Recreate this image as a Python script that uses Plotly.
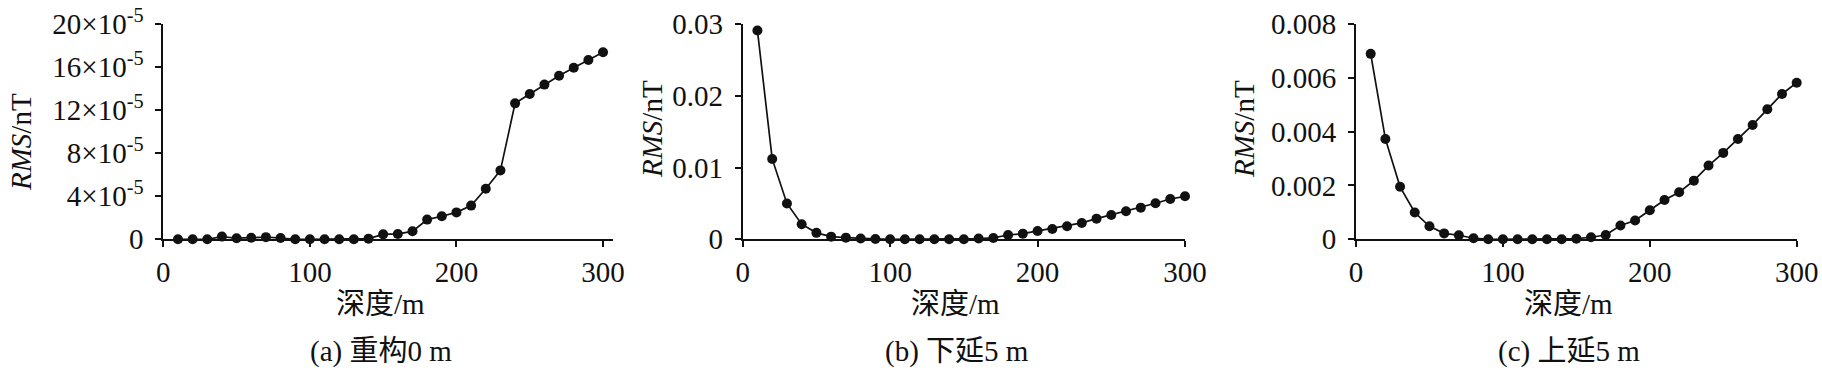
import numpy as np
import plotly.graph_objects as go

depth = list(range(10, 301, 10))

# (a) 重构0 m, values in units of 1e-5 nT
rms_a_e5 = [0, 0, 0, 0.25, 0.1, 0.15, 0.2, 0.12, 0.0, 0.0,
            0.0, 0.0, 0.0, 0.06, 0.46, 0.5, 0.74, 1.83, 2.14, 2.5,
            3.13, 4.7, 6.4, 12.63, 13.5, 14.37, 15.2, 15.94, 16.66, 17.37]
# (b) 下延5 m
rms_b = [0.0291, 0.0112, 0.0050, 0.0021, 0.0009, 0.00037, 0.00023, 0.0001, 0.00005, 0.0,
         0.0, 0.0, 0.0, 0.0, 0.0, 0.0001, 0.00019, 0.0006, 0.00079, 0.00116,
         0.00144, 0.00181, 0.00228, 0.00288, 0.00339, 0.0039, 0.00441, 0.00502, 0.00562, 0.00599]
# (c) 上延5 m
rms_c = [0.00689, 0.00373, 0.00195, 0.000995, 0.000485, 0.00022, 0.00015, 0.00004, 0.0, 0.0,
         0.0, 0.0, 0.0, 0.0, 0.000025, 0.000075, 0.00016, 0.00051, 0.0007, 0.00108,
         0.00146, 0.00175, 0.00218, 0.00274, 0.00321, 0.00373, 0.00425, 0.00483, 0.0054, 0.00582]

xticks = [0, 100, 200, 300]
yticks_a = [0, 4e-5, 8e-5, 12e-5, 16e-5, 20e-5]
yticktext_a = ["0", "4×10<sup>-5</sup>", "8×10<sup>-5</sup>", "12×10<sup>-5</sup>",
               "16×10<sup>-5</sup>", "20×10<sup>-5</sup>"]
yticks_b = [0, 0.01, 0.02, 0.03]
yticktext_b = ["0", "0.01", "0.02", "0.03"]
yticks_c = [0, 0.002, 0.004, 0.006, 0.008]
yticktext_c = ["0", "0.002", "0.004", "0.006", "0.008"]
captions = ["(a) 重构0 m", "(b) 下延5 m", "(c) 上延5 m"]
xtitle = "深度/m"
ytitle = "<i>RMS</i>/nT"

W, H = 1822, 378
FONT = "'Liberation Serif', 'Times New Roman', 'Noto Sans CJK SC', serif"
FS = 29
INK = "#111111"


def px_x(p):
    return p / W


def px_y(p):
    return 1 - p / H


series = [np.array(rms_a_e5) * 1e-5, np.array(rms_b), np.array(rms_c)]
yt = [(yticks_a, yticktext_a, [0, 20e-5]),
      (yticks_b, yticktext_b, [0, 0.03]),
      (yticks_c, yticktext_c, [0, 0.008])]
xranges = [[0, 307], [0, 300], [0, 300]]
xdom_px = [(163.3, 613.3), (742.7, 1185.0), (1356.0, 1796.7)]
ydom = [px_y(239.3), px_y(24.0)]
ytitle_px = [(21, 142), (652, 129), (1244, 129)]

fig = go.Figure()
for i in range(3):
    sfx = "" if i == 0 else str(i + 1)
    fig.add_trace(go.Scatter(
        x=depth, y=series[i], mode="lines+markers",
        line=dict(color=INK, width=1.7),
        marker=dict(color=INK, size=10),
        cliponaxis=False, showlegend=False,
        xaxis="x" + sfx, yaxis="y" + sfx))
    dom = [px_x(xdom_px[i][0]), px_x(xdom_px[i][1])]
    fig.layout["xaxis" + sfx] = dict(
        domain=dom, range=xranges[i], tickvals=xticks, ticktext=[str(t) for t in xticks],
        showline=True, linecolor=INK, linewidth=1.8, ticks="outside",
        ticklen=6, tickwidth=1.8, tickcolor=INK, showgrid=False, zeroline=False,
        automargin=False, anchor="y" + sfx, ticklabeloverflow="allow",
        tickfont=dict(family=FONT, size=FS, color=INK))
    fig.layout["yaxis" + sfx] = dict(
        domain=ydom, range=yt[i][2], tickvals=yt[i][0], ticktext=yt[i][1],
        showline=True, linecolor=INK, linewidth=1.8, ticks="outside",
        ticklen=6, tickwidth=1.8, tickcolor=INK, showgrid=False, zeroline=False,
        automargin=False, anchor="x" + sfx, ticklabelstandoff=6, ticklabeloverflow="allow",
        tickfont=dict(family=FONT, size=FS, color=INK))
    cx = (xdom_px[i][0] + xdom_px[i][1]) / 2
    fig.add_annotation(text=xtitle, x=px_x(cx - 8), y=px_y(304), xref="paper", yref="paper",
                       showarrow=False, font=dict(family=FONT, size=FS, color=INK),
                       xanchor="center", yanchor="middle")
    fig.add_annotation(text=captions[i], x=px_x(cx - 7), y=px_y(351), xref="paper", yref="paper",
                       showarrow=False, font=dict(family=FONT, size=FS, color=INK),
                       xanchor="center", yanchor="middle")
    fig.add_annotation(text=ytitle, x=px_x(ytitle_px[i][0]), y=px_y(ytitle_px[i][1]),
                       xref="paper", yref="paper", textangle=-90,
                       showarrow=False, font=dict(family=FONT, size=FS, color=INK),
                       xanchor="center", yanchor="middle")

fig.update_layout(width=W, height=H, margin=dict(l=0, r=0, t=0, b=0, autoexpand=False),
                  paper_bgcolor="white", plot_bgcolor="white",
                  font=dict(family=FONT, size=FS, color=INK))
fig.write_html("out.html", config={"displayModeBar": False},
               post_script="document.body.style.margin='0';"
                           "document.body.style.overflow='hidden';")
